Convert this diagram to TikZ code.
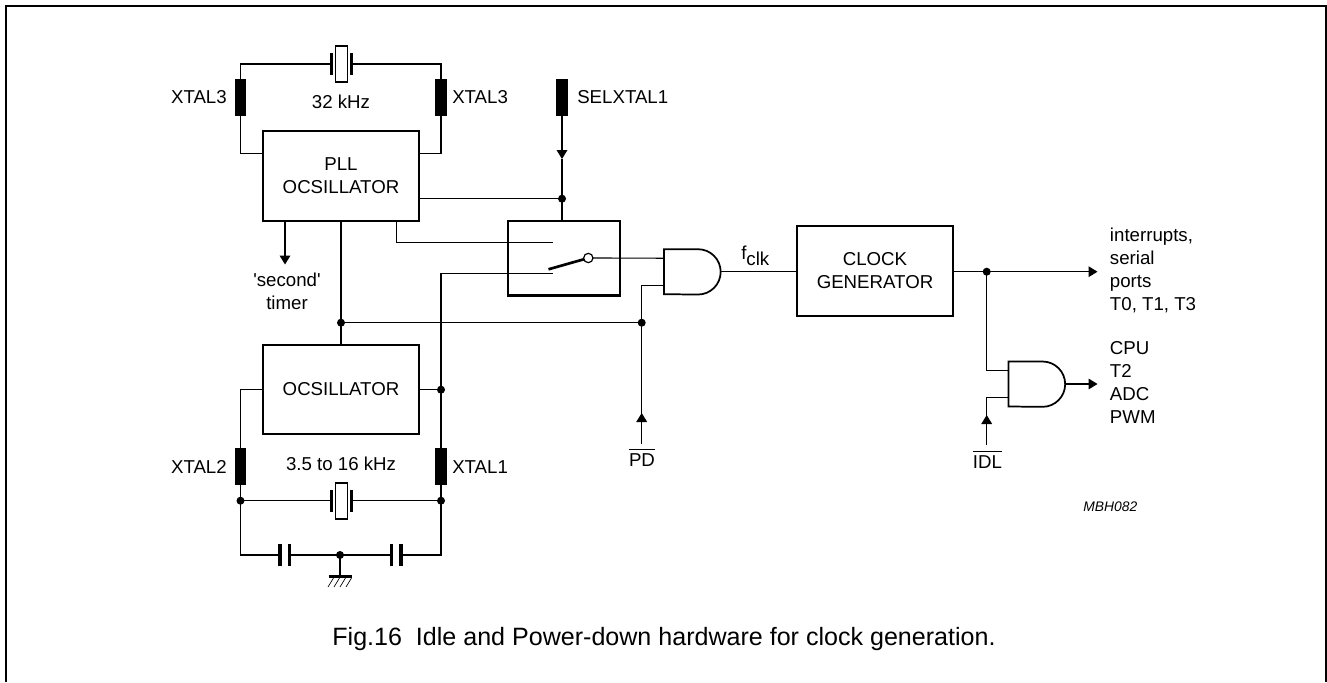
\documentclass[tikz,border=0pt]{standalone}
\usepackage{fontspec}
\setmainfont{Liberation Sans}
\usetikzlibrary{arrows.meta}
\newcommand{\ovbar}[1]{\vbox{\hrule height 0.6pt \kern2.8pt\hbox{#1}}}
\tikzset{
	x=0.75pt, y=-0.75pt,
	every node/.style={font=\fontsize{14}{17.25}\selectfont, inner sep=0pt},
	wire/.style={line width=0.85pt},
	block/.style={draw, line width=1.6pt, fill=white, minimum width=117pt, minimum height=67pt, align=center},
	xpin/.style={fill=black, minimum width=8.75pt, minimum height=27.5pt},
	jct/.style={circle, fill=black, minimum size=6pt},
	xbody/.style={draw, line width=0.8pt, fill=white, minimum width=8.5pt, minimum height=27pt},
	xplate/.style={fill=black, minimum width=2.5pt, minimum height=16.5pt},
	sig/.style={-{Triangle[length=6.75pt,width=8pt]}, wire},
	list/.style={align=left, anchor=west},
	andgate/.pic={
		\draw[line width=1.3pt, fill=white] (0,-22.5) -- (34,-22.5) arc[start angle=90, end angle=-90, radius=17pt] -- (0,22.5) -- cycle;
		\coordinate (-a) at (0,-13.5);
		\coordinate (-b) at (0,13.5);
		\coordinate (-o) at (56,0);
	},
}
\begin{document}
\begin{tikzpicture}
	\useasboundingbox (0,0) rectangle (1327,682);
	\draw[line width=1.2pt] (6,682) -- (6,6) -- (1326,6) -- (1326,682);

	% blocks
	\node[block] (pll) at (341,176) {PLL\\OCSILLATOR};
	\node[block] (osc) at (341,389.5) {OCSILLATOR};
	\node[block] (gen) at (875,271) {CLOCK\\GENERATOR};
	\node[draw, line width=1.6pt, minimum width=84pt, minimum height=56pt] (sw) at (563.7,258.2) {};

	% pins
	\node[xpin] (p3l) at (240.5,97.5) {};
	\node[xpin] (p3r) at (441,97.5) {};
	\node[xpin] (psel) at (562,97.5) {};
	\node[xpin] (p2) at (240.5,466.5) {};
	\node[xpin] (p1) at (441,466.5) {};

	% free ends
	\coordinate (c3l) at (240.5,64);
	\coordinate (c3r) at (441,64);
	\coordinate (lk) at (240.5,555);
	\coordinate (rk) at (441,555);
	\coordinate (tpd) at (641.7,444);
	\coordinate (tidl) at (986.7,445);
	\coordinate (up) at (552.7,242.5);
	\coordinate (lo) at (552.7,273.7);
	\coordinate (arm) at (548.5,269.3);
	\coordinate (gbar) at (340,576);
	\coordinate (tsec) at (285,264.5);
	\coordinate (sela) at (562,159);
	\coordinate (jsel) at (562,198.7);
	\coordinate (jx1) at (441,389.7);
	\coordinate (jpd) at (641.7,322.7);
	\coordinate (jclk) at (986.7,271.7);

	\pic (ga) at (664,271.7) {andgate};
	\pic (gb) at (1008.5,384) {andgate};

	% wires
	\draw[wire] (331.5,64) -- (c3l) -- (p3l);
	\draw[wire] (351.5,64) -- (c3r) -- (p3r);
	\draw[wire] (p3l) |- (pll.west |- 0,153.3);
	\draw[wire] (p3r) |- (pll.east |- 0,153.3);
	\draw[wire] (pll.south) -- (osc.north);
	\draw[wire] (341,322.7) -- (jpd);
	\draw[wire] (pll.east |- jsel) -- (jsel);
	\draw[sig] (psel) -- (sela);
	\draw[wire] (sela) -- (sw.north -| jsel);
	\draw[wire] (396.7,220.7) |- (up);
	\draw[wire] (p1) -- (jx1) |- (lo);
	\draw[wire] (osc.east |- jx1) -- (jx1);
	\draw[wire] (p2) |- (osc.west |- jx1);
	\draw[wire] (p2) -- (lk) -- (rk) -- (p1);
	\draw[wire] (240.5,500.7) -- (441,500.7);
	\draw[sig] (285,220.7) -- (tsec);
	\draw[wire] (588.3,258) -- (ga-a);
	\draw[wire] (tpd) -- (jpd) |- (ga-b);
	\draw[wire] (ga-o) -- (gen.west |- ga-o);
	\draw[sig] (gen.east |- jclk) -- (1097.5,271.7);
	\draw[wire] (jclk) |- (gb-a);
	\draw[wire] (tidl) |- (gb-b);
	\draw[sig] (tidl) -- (986.7,415);
	\draw[sig] (tpd) -- (641.7,413);
	\draw[sig] (gb-o) -- (1097.5,384);
	\draw[line width=2pt] (arm) -- (588.3,258);
	\draw[wire] (340,555) -- (gbar);

	% junctions
	\node[jct] (jsel0) at (jsel) {};
	\node[jct] (jmid) at (341,322.7) {};
	\node[jct] (jpd0) at (jpd) {};
	\node[jct] (jx10) at (jx1) {};
	\node[jct] (jb2) at (240.5,500.7) {};
	\node[jct] (jb1) at (441,500.7) {};
	\node[jct] (jgnd) at (340,555) {};
	\node[jct] (jclk0) at (jclk) {};
	\node[draw, circle, fill=white, line width=0.9pt, minimum size=7pt] (swo) at (588.3,258) {};

	% crystals
	\foreach \n/\y in {xtop/64,xbot/501}{
		\node[fill=white, minimum width=15pt, minimum height=16pt] (\n w) at (341.5,\y) {};
		\node[xbody] (\n) at (341.5,\y) {};
		\node[xplate] (\n l) at (331.5,\y) {};
		\node[xplate] (\n r) at (351.5,\y) {};
	}

	% capacitors
	\foreach \n/\x in {cl/284.7,cr/396.4}{
		\node[fill=white, minimum width=6pt, minimum height=10pt] (\n w) at (\x,555) {};
		\node[xplate] (\n a) at (\x-4.7,555) {};
		\node[xplate] (\n b) at (\x+4.7,555) {};
	}

	% ground
	\draw[line width=2.2pt] (328.5,576.5) -- (351.5,576.5);
	\foreach \i in {0,1,2,3}
		\draw[line width=0.5pt] (333.5+\i*6,578) -- (328+\i*6,587);

	% labels
	\node[anchor=east] (l3l) at (227,97.5) {XTAL3};
	\node[anchor=west] (l3r) at (452,97.5) {XTAL3};
	\node (l32) at (341,101.5) {32 kHz};
	\node[anchor=west] (lsel) at (577,97.5) {SELXTAL1};
	\node[align=center] (lsec) at (287,291.5) {\textquotesingle second\textquotesingle\\timer};
	\node[anchor=east] (l2) at (227,467) {XTAL2};
	\node[anchor=west] (l1) at (452,467) {XTAL1};
	\node (lhz) at (341,463.7) {3.5 to 16 kHz};
	\node[anchor=base west] (lclk) at (741,259.3) {f\raisebox{-4.8pt}{clk}};
	\node (lpd) at (642,458) {\ovbar{PD}};
	\node (lidl) at (987.5,460) {\ovbar{IDL}};
	\node[list] (lint) at (1109.7,270.5) {interrupts,\\serial\\ports\\T0, T1, T3};
	\node[list] (lcpu) at (1109.7,382.5) {CPU\\T2\\ADC\\PWM};
	\node[anchor=west] (lmbh) at (1083,507) {\fontsize{10.4}{12}\selectfont\itshape MBH082};
	\node (lfig) at (664,639) {\fontsize{18.8}{22}\selectfont Fig.16\ \ Idle and Power-down hardware for clock generation.};
\end{tikzpicture}
\end{document}
